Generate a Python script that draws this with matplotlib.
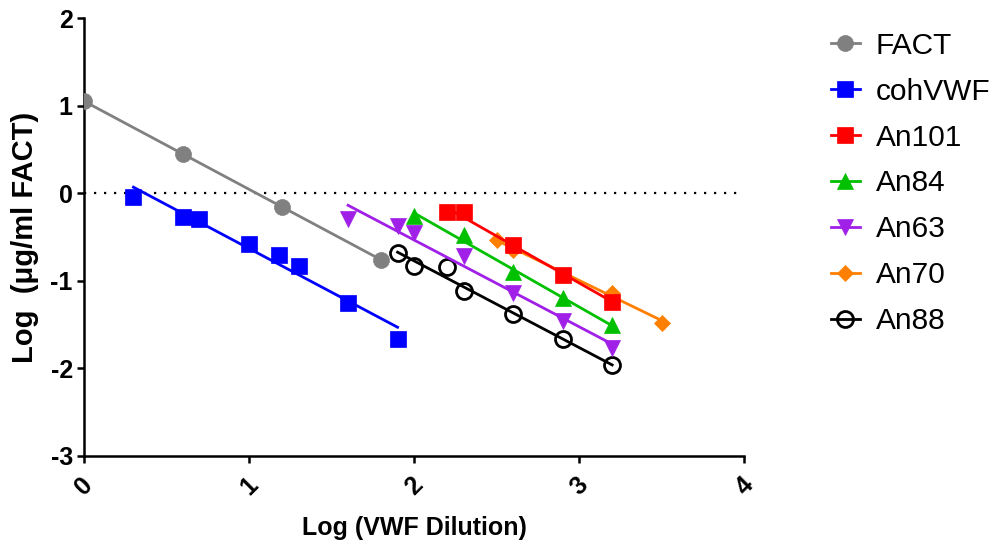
import numpy as np
import matplotlib
matplotlib.use("Agg")
import matplotlib.pyplot as plt

plt.rcParams['font.family'] = ['Liberation Sans', 'DejaVu Sans']

# log dilution (x) and log concentration (y) for each sample
fact_x = [0.0, 0.6, 1.2, 1.8]
fact_y = [1.05, 0.45, -0.16, -0.76]

coh_x = [0.3, 0.6, 0.7, 1.0, 1.18, 1.3, 1.6, 1.9]
coh_y = [-0.04, -0.27, -0.29, -0.58, -0.71, -0.83, -1.25, -1.66]

an101_x = [2.2, 2.3, 2.6, 2.9, 3.2]
an101_y = [-0.22, -0.22, -0.59, -0.93, -1.24]

an84_x = [2.0, 2.3, 2.6, 2.9, 3.2]
an84_y = [-0.26, -0.48, -0.90, -1.20, -1.51]

an63_x = [1.6, 1.9, 2.0, 2.3, 2.6, 2.9, 3.2]
an63_y = [-0.30, -0.38, -0.45, -0.72, -1.14, -1.46, -1.77]

an70_x = [2.5, 2.6, 3.2, 3.5]
an70_y = [-0.53, -0.65, -1.14, -1.48]

an88_x = [1.9, 2.0, 2.2, 2.3, 2.6, 2.9, 3.2]
an88_y = [-0.68, -0.83, -0.84, -1.12, -1.38, -1.67, -1.96]

names = ['FACT', 'cohVWF', 'An101', 'An84', 'An63', 'An70', 'An88']
xs = [fact_x, coh_x, an101_x, an84_x, an63_x, an70_x, an88_x]
ys = [fact_y, coh_y, an101_y, an84_y, an63_y, an70_y, an88_y]
colors = ['#808080', '#0000ff', '#ff0000', '#00c000', '#a020e8', '#ff8000', '#000000']
markers = ['o', 's', 's', '^', 'v', 'D', 'o']
msizes = [11.5, 11.5, 11.5, 12, 12, 8.5, 11.5]

fig = plt.figure(figsize=(9.99, 5.46), dpi=100)
ax = fig.add_axes([0.084, 0.165, 0.661, 0.802])

ax.axhline(0, color='black', lw=1.6, linestyle=(0, (1, 3.5)), zorder=1)

n = len(names)
for i in range(n):
    x = np.array(xs[i])
    y = np.array(ys[i])
    # straight-line fit over the measured range
    slope, icpt = np.polyfit(x, y, 1)
    fx = np.array([x.min(), x.max()])
    z = 10 + (n - i) * 2
    hollow = i == n - 1
    face = 'none' if hollow else colors[i]
    mew = 2 if hollow else 0.5
    ax.plot(fx, slope * fx + icpt, color=colors[i], lw=2, zorder=z)
    ax.plot(x, y, linestyle='none', marker=markers[i], markersize=msizes[i],
            markerfacecolor=face, markeredgecolor=colors[i],
            markeredgewidth=mew, zorder=z + 1)
    # legend proxy
    ax.plot([], [], color=colors[i], lw=2, marker=markers[i], markersize=msizes[i],
            markerfacecolor=face, markeredgecolor=colors[i],
            markeredgewidth=mew, label=names[i])

ax.set_xlim(0, 4)
ax.set_ylim(-3, 2)
ax.set_xticks([0, 1, 2, 3, 4])
ax.set_yticks([-3, -2, -1, 0, 1, 2])
ax.set_xticklabels(['0', '1', '2', '3', '4'], rotation=45, ha='center', va='top',
                   fontsize=18, fontweight='bold')
ax.set_yticklabels(['-3', '-2', '-1', '0', '1', '2'], fontsize=18, fontweight='bold')

for side in ['top', 'right']:
    ax.spines[side].set_visible(False)
for side in ['left', 'bottom']:
    ax.spines[side].set_linewidth(1.8)
ax.tick_params(direction='out', length=5, width=1.8, pad=3)
ax.tick_params(axis='x', pad=7)

ax.set_xlabel('Log (VWF Dilution)', fontsize=18, fontweight='bold', labelpad=12)
ax.set_ylabel('Log  (\u03bcg/ml FACT)', fontsize=21, fontweight='bold', labelpad=8)

handles, labels = ax.get_legend_handles_labels()
ax.legend(handles, labels,
          loc='upper left', bbox_to_anchor=(0.832, 0.942), bbox_transform=fig.transFigure,
          frameon=False, fontsize=21.5, handlelength=0.95, handletextpad=0.55,
          labelspacing=0.6, borderpad=0, borderaxespad=0)

fig.savefig('out.png', dpi=100)
